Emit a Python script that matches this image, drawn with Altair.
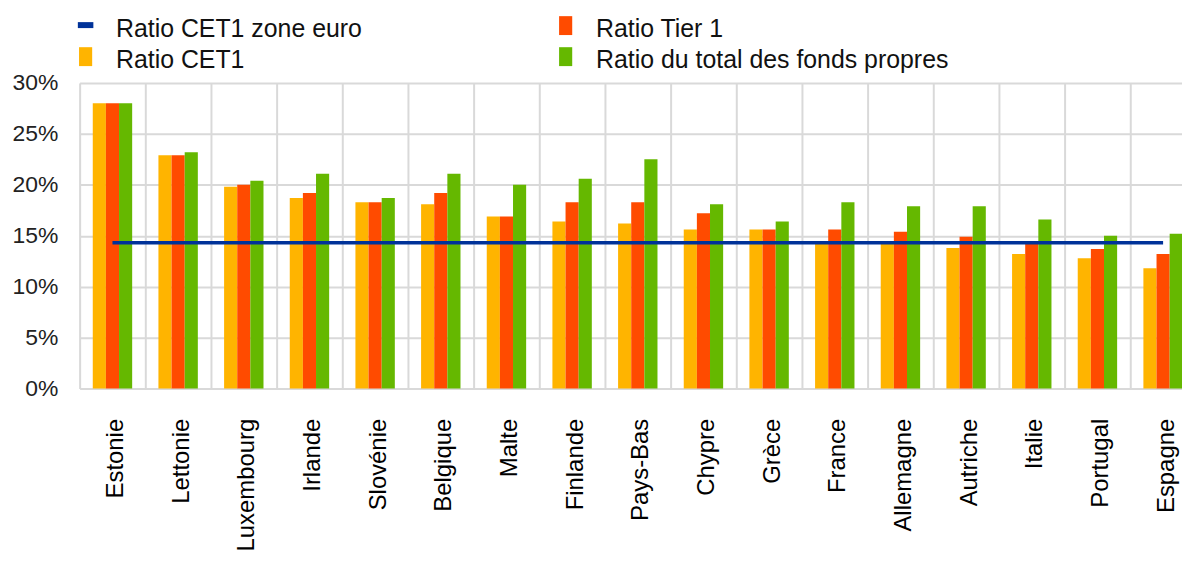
import altair as alt
import pandas as pd

pays = ["Estonie", "Lettonie", "Luxembourg", "Irlande", "Slovénie", "Belgique",
        "Malte", "Finlande", "Pays-Bas", "Chypre", "Grèce", "France",
        "Allemagne", "Autriche", "Italie", "Portugal", "Espagne"]
cet1 = [28.0, 22.9, 19.8, 18.7, 18.3, 18.1, 16.9, 16.4, 16.2, 15.6, 15.6,
        14.2, 14.2, 13.8, 13.2, 12.8, 11.8]
tier1 = [28.0, 22.9, 20.0, 19.2, 18.3, 19.2, 16.9, 18.3, 18.3, 17.2, 15.6,
         15.6, 15.4, 14.9, 14.2, 13.7, 13.2]
total = [28.0, 23.2, 20.4, 21.1, 18.7, 21.1, 20.0, 20.6, 22.5, 18.1, 16.4,
         18.3, 17.9, 17.9, 16.6, 15.0, 15.2]
cet1_zone_euro = 14.3

s_euro = "Ratio CET1 zone euro"
s_cet1 = "Ratio CET1"
s_tier1 = "Ratio Tier 1"
s_total = "Ratio du total des fonds propres"
bar_series = [s_cet1, s_tier1, s_total]
bar_colors = ["#FFB400", "#FF4B00", "#65B800"]
line_color = "#003299"

# legend entries: two columns, two rows
line_symbol = "M-0.78,-0.7H0.78V-0.1H-0.78Z"
bar_symbol = "M-0.66,-1.3H0.66V0.6H-0.66Z"
legend_series = [s_euro, s_cet1, s_tier1, s_total]
legend_colors = [line_color, "#FFB400", "#FF4B00", "#65B800"]
legend_symbols = [line_symbol, bar_symbol, bar_symbol, bar_symbol]
legend_x = [-6.5, -6.5, 476, 476]
legend_y = [-66.7, -35.5, -66.7, -35.5]

y_ticks = [0, 5, 10, 15, 20, 25, 30]

rows = []
for s, vals in zip(bar_series, [cet1, tier1, total]):
    for p, v in zip(pays, vals):
        rows.append({"pays": p, "serie": s, "valeur": v})
bars_df = pd.DataFrame(rows)
line_df = pd.DataFrame({"pays": pays, "valeur": [cet1_zone_euro] * len(pays),
                        "serie": [s_euro] * len(pays)})

FONT = "Liberation Sans"

x_enc = alt.X("pays:N", sort=pays, title=None,
              scale=alt.Scale(paddingInner=0, paddingOuter=0, range=[0, 1122]),
              axis=alt.Axis(labelAngle=-90, labelAlign="right", labelBaseline="middle",
                            labelFontSize=24, labelColor="#000000", labelPadding=30,
                            labelOffset=3, ticks=False, tickSize=0, domain=False,
                            grid=True, tickBand="extent", gridColor="#d9d9d9",
                            gridWidth=2, labelFont=FONT))
y_enc = alt.Y("valeur:Q", title=None,
              scale=alt.Scale(domain=[0, 30], nice=False, zero=True),
              axis=alt.Axis(values=y_ticks, labelExpr="datum.value + '%'",
                            labelFontSize=23, labelColor="#222222", labelPadding=22,
                            ticks=False, tickSize=0, domain=False, grid=True,
                            gridColor="#d9d9d9", gridWidth=2, labelFont=FONT))

bars = alt.Chart(bars_df).mark_bar().encode(
    x=x_enc,
    xOffset=alt.XOffset("serie:N", sort=bar_series,
                        scale=alt.Scale(paddingInner=0, paddingOuter=1)),
    y=y_enc,
    color=alt.Color("serie:N", scale=alt.Scale(domain=bar_series, range=bar_colors),
                    legend=None),
)

line = alt.Chart(line_df).mark_line(strokeWidth=3.5).encode(
    x=alt.X("pays:N", sort=pays),
    y=alt.Y("valeur:Q"),
    color=alt.Color("serie:N", scale=alt.Scale(domain=[s_euro], range=[line_color]),
                    legend=None),
)

legend_layers = []
for s, c, sym, lx, ly in zip(legend_series, legend_colors, legend_symbols,
                             legend_x, legend_y):
    legend_layers.append(
        alt.Chart(pd.DataFrame({"serie": [s]})).mark_point(filled=True, opacity=0).encode(
            color=alt.Color("serie:N", scale=alt.Scale(domain=[s], range=[c]),
                            legend=alt.Legend(title=None, orient="none", legendX=lx,
                                              legendY=ly, symbolType=sym,
                                              symbolSize=400, labelOffset=18,
                                              labelFontSize=25, labelFont=FONT,
                                              labelColor="#111111", labelLimit=500,
                                              symbolStrokeWidth=0, symbolOpacity=1))
        )
    )

chart = alt.layer(bars, line, *legend_layers).resolve_scale(
    color="independent"
).properties(
    width=1108,
    height=307,
    autosize=alt.AutoSizeParams(type="none"),
    padding={"left": 72, "top": 74, "right": 0, "bottom": 165},
).configure_view(stroke=None).configure(font=FONT)

chart.save("out.html", embed_options={"renderer": "svg", "actions": False})
